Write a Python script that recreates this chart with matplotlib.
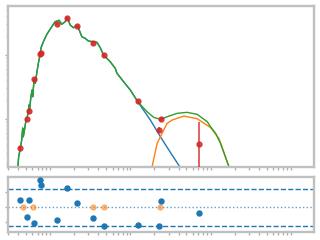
import matplotlib
matplotlib.use("Agg")
import matplotlib.pyplot as plt
from matplotlib.ticker import LogLocator, NullFormatter, FixedLocator

# ---- observed photometry ----
obs_wave = [0.0425, 0.0520, 0.0551, 0.0631, 0.0756, 0.0779, 0.1234, 0.1645,
            0.2195, 0.338, 0.464, 1.234, 2.26, 2.39, 7.14]
obs_flux = [0.348, 0.989, 1.358, 4.17, 10.2, 10.7, 30.5, 37.4,
            28.4, 15.2, 9.89, 1.89, 0.681, 0.99, 0.402]
obs_err = [0.02, 0.05, 0.07, 0.2, 0.5, 0.5, 1.5, 1.8,
           1.4, 0.8, 0.5, 0.1, 0.075, 0.05, 0.506]

# ---- residuals ----
resid = [0.46, -0.65, 0.46, -1.05, 1.78, 1.44, -0.85, 1.24,
         0.26, -0.72, -1.24, -1.18, -1.24, 0.41, -0.39]
lim_wave = [0.0464, 0.0618, 0.338, 0.464, 2.37]
lim_resid = [0.0, 0.0, 0.0, 0.0, 0.0]

# ---- model components ----
total_wave = [0.0395, 0.0398, 0.0406, 0.0422, 0.0443, 0.0456, 0.0464, 0.0487, 0.0501,
              0.0520, 0.0535, 0.0546, 0.0551, 0.0574, 0.0596, 0.0608, 0.0631,
              0.0655, 0.0682, 0.0714, 0.0750, 0.0772, 0.0824, 0.0910, 0.105,
              0.1155, 0.1296, 0.140, 0.154, 0.1645, 0.178, 0.1955, 0.2195,
              0.249, 0.274, 0.301, 0.348, 0.384, 0.422, 0.464, 0.562, 0.649,
              0.682, 0.824, 1.0, 1.234, 1.617, 1.955, 2.39, 2.875, 3.835,
              5.11, 6.82, 9.10, 10.0, 11.55, 13.3, 16.9, 18.0]
total_flux = [0.13, 0.180, 0.258, 0.328, 0.470, 0.723, 0.529, 0.758, 0.965,
              1.086, 1.300, 1.655, 1.241, 2.105, 2.84, 2.23, 4.07,
              3.61, 5.18, 7.42, 10.0, 13.0, 16.1, 21.0, 27.7,
              33.1, 34.8, 30.2, 33.1, 38.3, 29.4, 26.7, 28.7,
              19.3, 18.2, 16.5, 16.1, 15.8, 13.0, 10.0, 7.85, 6.20,
              5.18, 3.83, 2.84, 1.876, 1.300, 1.063, 0.989, 1.086, 1.228,
              1.273, 1.184, 0.908, 0.758, 0.598, 0.417, 0.181, 0.133]

stellar_wave = [0.0395, 0.0398, 0.0406, 0.0422, 0.0443, 0.0456, 0.0464, 0.0487, 0.0501,
                0.0520, 0.0535, 0.0546, 0.0551, 0.0574, 0.0596, 0.0608, 0.0631,
                0.0655, 0.0682, 0.0714, 0.0750, 0.0772, 0.0824, 0.0910, 0.105,
                0.1155, 0.1296, 0.140, 0.154, 0.1645, 0.178, 0.1955, 0.2195,
                0.249, 0.274, 0.301, 0.348, 0.384, 0.422, 0.464, 0.562, 0.649,
                0.682, 0.824, 1.0, 1.234, 1.778, 2.371, 3.162, 4.13, 4.53]
stellar_flux = [0.13, 0.180, 0.258, 0.328, 0.470, 0.723, 0.529, 0.758, 0.965,
                1.086, 1.300, 1.655, 1.241, 2.105, 2.84, 2.23, 4.07,
                3.61, 5.18, 7.42, 10.0, 13.0, 16.1, 21.0, 27.7,
                33.1, 34.8, 30.2, 33.1, 38.3, 29.4, 26.7, 28.7,
                19.3, 18.2, 16.5, 16.1, 15.8, 13.0, 10.0, 7.85, 6.20,
                5.18, 3.83, 2.84, 1.876, 0.965, 0.529, 0.300, 0.180, 0.133]

dust_wave = [1.753, 1.867, 2.157, 2.607, 2.875, 3.32, 4.64, 6.82, 10.0, 12.7, 16.9, 18.0]
dust_flux = [0.133, 0.180, 0.417, 0.673, 0.857, 0.965, 1.114, 1.011, 0.736, 0.499, 0.182, 0.133]

BLUE, ORANGE, GREEN, RED = "#1f77b4", "#ff7f0e", "#2ca02c", "#d62728"
SPINE = "#c0c0c0"

fig = plt.figure(figsize=(3.2, 2.4), dpi=100)
ax = fig.add_axes([0.025, 0.304, 0.956, 0.671])
axr = fig.add_axes([0.025, 0.033, 0.956, 0.228])

ax.plot(stellar_wave, stellar_flux, color=BLUE, lw=1.0)
ax.plot(dust_wave, dust_flux, color=ORANGE, lw=1.0)
ax.plot(total_wave, total_flux, color=GREEN, lw=1.0)
ax.errorbar(obs_wave, obs_flux, yerr=obs_err, fmt="o", color=RED, ms=3.5,
            elinewidth=1.2, capsize=0, alpha=0.85, zorder=5)
ax.set_xscale("log")
ax.set_yscale("log")
ax.set_xlim(0.0299, 194)
ax.set_ylim(0.178, 58.3)

axr.axhline(1.2, color=BLUE, ls="--", lw=1.0)
axr.axhline(-1.2, color=BLUE, ls="--", lw=1.0)
axr.axhline(0.0, color=BLUE, ls=":", lw=1.0, alpha=0.7)
axr.plot(obs_wave, resid, "o", color=BLUE, ms=3.6, zorder=5)
axr.plot(lim_wave, lim_resid, "o", color=ORANGE, ms=3.6, alpha=0.5, zorder=4)
axr.set_xscale("log")
axr.set_xlim(0.0299, 194)
axr.set_ylim(-1.63, 1.96)
axr.yaxis.set_major_locator(FixedLocator([-1, 0, 1]))

for a in (ax, axr):
    for s in a.spines.values():
        s.set_color(SPINE)
        s.set_linewidth(1.7)
    a.tick_params(which="both", colors="#b0b0b0", labelleft=False, labelbottom=False)
    a.tick_params(which="major", length=2.5, width=1.0)
    a.tick_params(which="minor", length=1.8, width=1.0)
    a.xaxis.set_major_locator(LogLocator(base=10, numticks=10))
    a.xaxis.set_minor_locator(LogLocator(base=10, subs=range(2, 10), numticks=100))
    a.xaxis.set_minor_formatter(NullFormatter())

ax.yaxis.set_major_locator(LogLocator(base=10, numticks=10))
ax.yaxis.set_minor_locator(LogLocator(base=10, subs=range(2, 10), numticks=100))
ax.yaxis.set_minor_formatter(NullFormatter())

fig.savefig("out.png", dpi=100)
